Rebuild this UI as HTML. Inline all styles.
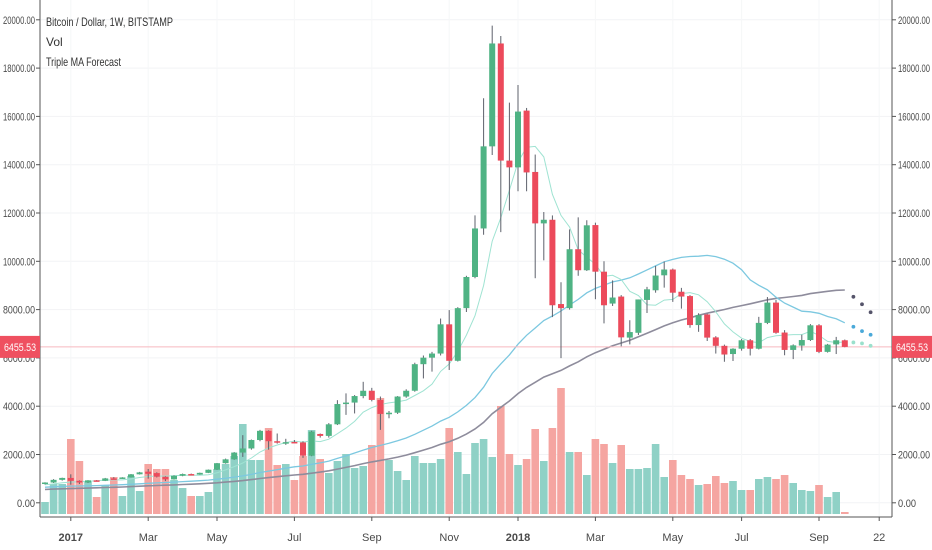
<!DOCTYPE html>
<html><head><meta charset="utf-8"><style>
html,body{margin:0;padding:0;background:#fff;}
svg{display:block;font-family:"Liberation Sans Narrow","Liberation Sans",sans-serif;}
</style></head><body>
<svg id="chart" width="932" height="550" viewBox="0 0 932 550" xmlns="http://www.w3.org/2000/svg">
<rect width="932" height="550" fill="#fff"/>
<g id="grid"></g>
<g id="vol"></g>
<g id="mas"></g>
<line x1="40" x2="892" y1="346.9" y2="346.9" stroke="#f7b9bf" stroke-width="1"/>
<g id="candles"></g>
<g id="fc"></g>
<g id="axes"></g>
<g font-family="'Liberation Sans Narrow','Liberation Sans',sans-serif" fill="#333" font-size="12">
<text x="46" y="26" textLength="127" lengthAdjust="spacingAndGlyphs">Bitcoin / Dollar, 1W, BITSTAMP</text>
<text x="46" y="46">Vol</text>
<text x="46" y="66" textLength="75" lengthAdjust="spacingAndGlyphs">Triple MA Forecast</text>
</g>
</svg>
<script>
const opens =[780,840,950,1030,910,840,930,910,1010,1000,1050,1180,1290,1230,1080,970,1120,1190,1170,1240,1370,1640,1800,2080,2250,2600,2980,2550,2490,2520,2500,1950,2850,2770,3250,4090,4150,4420,4640,4260,3680,3730,4400,4640,5740,6010,6180,7390,5880,8060,9350,11360,14760,19020,14170,13890,16240,13700,11570,11720,8230,8060,10500,9630,11500,9570,8250,8540,6840,7040,8400,8800,9420,9660,8740,8560,7360,7800,6850,6500,6160,6380,6730,6380,7450,8290,7050,6330,6510,6740,7350,6250,6560,6730];
const highs =[850,980,1040,1180,930,940,940,1030,1060,1060,1190,1280,1400,1260,1100,1140,1210,1210,1250,1380,1650,1830,2100,2800,2620,3020,3000,2870,2650,2600,2550,2980,2870,3300,4250,4530,4460,5010,4760,4400,3800,4420,4700,5800,6100,6250,7630,7980,8100,9400,11900,16750,19760,19330,16570,17300,16350,14420,12040,11900,9130,11320,11820,11700,11600,10000,9210,8600,7560,8420,8940,9810,9990,9700,8900,8600,7850,7830,6900,6550,6400,6780,6780,7700,8520,8400,7150,6560,6960,7400,7400,6580,6870,6760];
const lows  =[760,820,920,750,780,820,880,900,960,990,1040,1170,1000,1050,900,960,1100,1150,1160,1230,1360,1620,1780,1900,2200,2550,2200,2450,2400,2470,1860,1930,2700,2700,3220,3640,3700,4330,4200,3020,3500,3680,4350,4600,5150,5430,6100,5500,5850,7900,9300,11100,14400,11210,12100,12900,12900,9300,10040,7690,5990,8000,9400,9600,8430,7430,8150,6480,6560,6950,7860,8700,8910,8320,8040,7250,7080,6700,6180,5840,5870,6300,6100,6350,7400,7000,6110,5950,6300,6700,6200,6220,6160,6440];
const closes=[840,950,1030,910,840,930,910,1010,1000,1050,1180,1260,1200,1080,970,1120,1190,1170,1240,1370,1640,1800,2080,2250,2600,2980,2550,2500,2510,2500,1950,2950,2770,3250,4090,4150,4420,4640,4260,3680,3730,4400,4640,5740,6010,6180,7390,5880,8060,9350,11360,14760,19020,14170,13890,16200,13680,11570,11720,8180,8060,10500,9630,11490,9570,8180,8500,6850,7070,8420,8840,9410,9660,8700,8540,7360,7770,6840,6500,6140,6380,6730,6380,7450,8290,7040,6330,6520,6740,7350,6250,6550,6730,6455];
const volumes=[12,30,30,75,53,33,17,29,37,18,38,23,50,45,45,34,26,18,18,22,45,50,58,90,54,54,86,49,50,34,58,84,55,41,53,60,46,48,69,116,54,43,34,58,51,51,55,86,62,40,71,75,57,108,60,49,55,85,53,86,126,62,62,39,75,70,51,69,45,45,46,70,37,54,39,35,29,30,38,31,33,24,24,35,37,35,39,31,24,23,29,17,22,2];
const historyCloses=[410,380,380,400,380,400,420,440,420,410,415,410,415,420,420,420,440,460,450,450,460,530,580,660,740,650,650,670,660,655,590,590,570,575,580,610,600,610,605,610,640,650,690,710,700,730,740,760,770];
const fcSlow=[8530,8220,7890];
const fcMid=[7290,7110,6960];
const fcFast=[6640,6600,6500];
const priceTicks=[0,2000,4000,6000,8000,10000,12000,14000,16000,18000,20000];
const timeLabels=["2017","Mar","May","Jul","Sep","Nov","2018","Mar","May","Jul","Sep","22"];
const timeLabelIdx=[3,12,20,29,38,47,55,64,73,81,90,97];
const lastPrice=6455.53;

const NS="http://www.w3.org/2000/svg";
const X=i=>45+i*8.6;
const Y=v=>502.8-v*0.02415;
const YV=v=>514-v*1.0;
function mk(tag,attrs,parent){const e=document.createElementNS(NS,tag);for(const k in attrs)e.setAttribute(k,attrs[k]);parent.appendChild(e);return e;}
const G=id=>document.getElementById(id);

// grid
priceTicks.forEach(v=>{
  const l=mk('line',{x1:40,x2:892,y1:Y(v),y2:Y(v),stroke:'#f2f3f5','stroke-width':1},G('grid'));
  
  
});
timeLabelIdx.forEach(i=>{
  const l=mk('line',{x1:X(i),x2:X(i),y1:0,y2:517,stroke:'#f6f7f8','stroke-width':1},G('grid'));
  
  
});

// volume
volumes.forEach((v,i)=>{
  const up=closes[i]>=opens[i];
  const r=mk('rect',{x:X(i)-3.8,y:YV(v),width:7.6,height:v*1.0,fill:up?'#8fd1c6':'#f5a5a1'},G('vol'));
  
  
});

// moving averages
const all=historyCloses.concat(closes);
const off=historyCloses.length;
function sma(p){const out=[];for(let i=0;i<closes.length;i++){const e=off+i;const s=Math.max(0,e-p+1);let t=0;for(let k=s;k<=e;k++)t+=all[k];out.push(t/(e-s+1));}return out;}
[[50,'#8e8c9c',1.6,'ma-slow-line'],[30,'#7cc8e0',1.3,'ma-mid-line'],[7,'#9fe3d2',1,'ma-fast-line']].forEach(([p,c,w,name])=>{
  const m=sma(p);
  const d=m.map((v,i)=>(i?'L':'M')+X(i).toFixed(1)+' '+Y(v).toFixed(1)).join(' ');
  const pth=mk('path',{d:d,fill:'none',stroke:c,'stroke-width':w},G('mas'));
  
  
});

// candles
closes.forEach((c,i)=>{
  const o=opens[i],up=c>=o;
  const col=up?'#4fb384':'#ec4a5b';
  const g=mk('g',{},G('candles'));
  
  
  mk('line',{x1:X(i),x2:X(i),y1:Y(highs[i]),y2:Y(lows[i]),stroke:'#5d606b','stroke-width':1},g);
  const top=Y(Math.max(o,c)),bot=Y(Math.min(o,c));
  mk('rect',{x:X(i)-3,y:top,width:6,height:Math.max(1.5,bot-top),fill:col},g);
});

// forecast dots
[[fcSlow,'#55546a'],[fcMid,'#4aa9d9'],[fcFast,'#9be0cc']].forEach(([arr,c])=>{
  arr.forEach((v,k)=>{
    const d=mk('circle',{cx:X(closes.length+k),cy:Y(v),r:1.9,fill:c},G('fc'));
    
    
  });
});

// axes
const ax=G('axes');
mk('line',{x1:40,x2:40,y1:0,y2:517,stroke:'#555','stroke-width':1},ax);
mk('line',{x1:892,x2:892,y1:0,y2:517,stroke:'#555','stroke-width':1},ax);
mk('line',{x1:40,x2:892,y1:517,y2:517,stroke:'#555','stroke-width':1},ax);
priceTicks.forEach(v=>{
  const s=v.toFixed(2);
  mk('line',{x1:36,x2:40,y1:Y(v),y2:Y(v),stroke:'#555'},ax);
  mk('line',{x1:892,x2:896,y1:Y(v),y2:Y(v),stroke:'#555'},ax);
  const w=s.length>6?32:(s.length>5?26:18);
  const t1=mk('text',{x:35,y:Y(v)+4,'text-anchor':'end','font-size':11,fill:'#4a4a4a',textLength:w,lengthAdjust:'spacingAndGlyphs'},ax);
  t1.textContent=s;
  
  
  const t2=mk('text',{x:898,y:Y(v)+4,'font-size':11,fill:'#4a4a4a',textLength:w,lengthAdjust:'spacingAndGlyphs'},ax);
  t2.textContent=s;
  
  
});
timeLabels.forEach((lab,k)=>{
  const x=X(timeLabelIdx[k]);
  mk('line',{x1:x,x2:x,y1:517,y2:521,stroke:'#555'},ax);
  const t=mk('text',{x:x,y:541,'text-anchor':'middle','font-size':11,fill:'#4a4a4a','font-weight':(lab.length===4?'bold':'normal')},ax);
  t.textContent=lab;
  
  
});
// price boxes
[[0,19],[892,912]].forEach(([bx,tx])=>{
  const r=mk('rect',{x:bx,y:Y(lastPrice)-11,width:40,height:22,fill:'#ef5060'},ax);
  
  
  const t=mk('text',{x:bx+20,y:Y(lastPrice)+4,'text-anchor':'middle','font-size':11,fill:'#fff',textLength:32,lengthAdjust:'spacingAndGlyphs'},ax);
  t.textContent=lastPrice.toFixed(2);
  
  
});
</script>
</body></html>
